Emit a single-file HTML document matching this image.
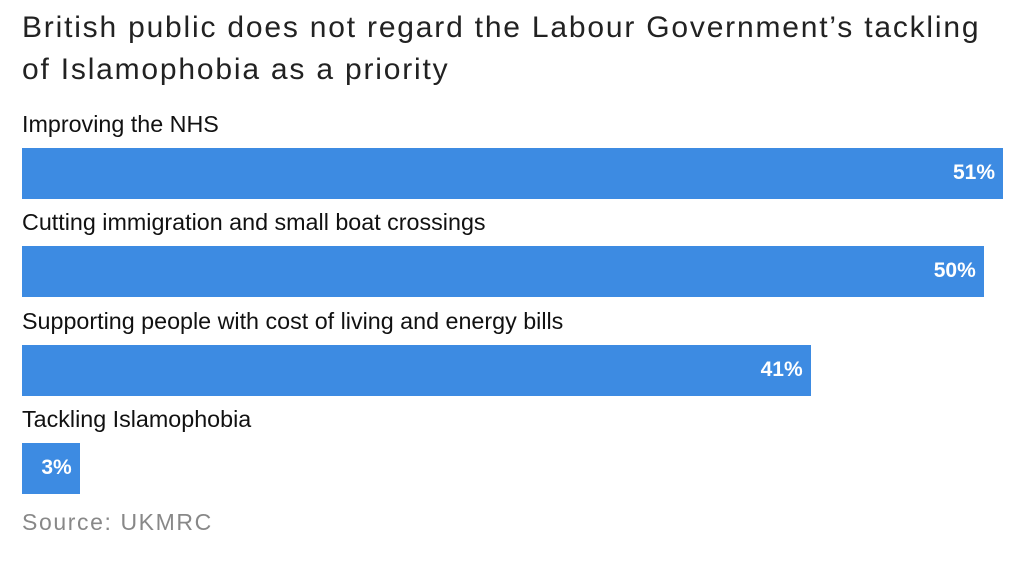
<!DOCTYPE html>
<html><head><meta charset="utf-8"><style>
body{margin:0;width:1024px;height:564px;background:#fff;overflow:hidden;font-family:"Liberation Sans",sans-serif;}
#title{position:absolute;left:22px;top:7px;font-size:30px;line-height:42px;color:#222;letter-spacing:1.8px;margin:0;font-weight:normal;white-space:nowrap;}
.lab{position:absolute;left:22px;font-family:"Liberation Sans",sans-serif;font-size:23.3px;color:#111;}
.bar{position:absolute;left:22px;background:#3d8be2;height:51px;}
.val{position:absolute;right:8px;top:13px;color:#fff;font-family:"Liberation Sans",sans-serif;font-size:21px;font-weight:bold;}
#source{position:absolute;left:22px;top:509px;font-size:23px;letter-spacing:1.6px;color:#888;}
</style></head><body>
<h1 id="title">British public does not regard the Labour Government’s tackling<br>of Islamophobia as a priority</h1>
<div id="chart"></div>
<div id="source">Source: UKMRC</div>
<script>
const categories=["Improving the NHS","Cutting immigration and small boat crossings","Supporting people with cost of living and energy bills","Tackling Islamophobia"];
const values=[51,50,41,3];
const x0=22, pxPer=981/51, rowTop=111, rowStep=98.3;
function xs(v){return v*pxPer;}
const chart=document.getElementById('chart');
categories.forEach((c,i)=>{
  const top=rowTop+i*rowStep;
  const l=document.createElement('div');
  l.className='lab';l.style.top=top+'px';l.textContent=c;
  
  
  chart.appendChild(l);
  const b=document.createElement('div');
  b.className='bar';b.style.top=(rowTop+1+i*rowStep+36)+'px';b.style.width=xs(values[i])+'px';
  
  
  const v=document.createElement('span');
  v.className='val';v.textContent=values[i]+'%';
  
  
  b.appendChild(v);
  chart.appendChild(b);
});
</script>
</body></html>
